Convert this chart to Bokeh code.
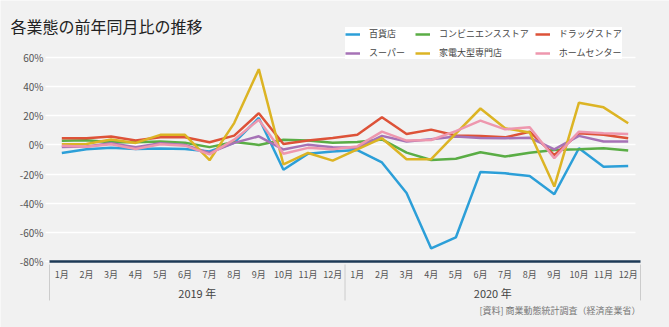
from bokeh.plotting import figure
from bokeh.models import (Range1d, Legend, LegendItem, Label, FixedTicker, PrintfTickFormatter)
from bokeh.embed import file_html
from bokeh.resources import INLINE

FONT = "Noto Sans CJK JP"

years = ["2019 年", "2020 年"]
months = ["1月", "2月", "3月", "4月", "5月", "6月", "7月", "8月", "9月", "10月", "11月", "12月"]

names = ["百貨店", "コンビニエンスストア", "ドラッグストア", "スーパー", "家電大型専門店", "ホームセンター"]
colors = ["#2c9fd8", "#5aad45", "#dd5238", "#a672b6", "#dcb424", "#ee97ae"]

department = [-5.5, -3, -2, -2.8, -2.5, -2.8, -4.5, 1.5, 18.5, -17, -6, -4.5,
              -3.5, -12, -33, -71, -63.5, -18.5, -19.5, -21.3, -33.8, -2.3, -15, -14.5]
convenience = [2.8, 3.2, 1.8, 1.8, 2.3, 1.5, -1.5, 2, 0, 3.5, 3, 1.5,
               2, 3.8, -5.3, -10.3, -9.5, -5, -8, -5.3, -3.4, -3, -2.3, -3.9]
drugstore = [4.6, 4.6, 5.8, 3, 5.3, 5.3, 1.8, 6.4, 21.8, 0.7, 3, 4.8,
             7, 19, 7.5, 10.5, 6.5, 6.2, 5.2, 9.1, -7, 8, 7, 4.6]
supermarket = [-1.4, -1, 1.2, -1.6, 1.2, 0, -5.5, 1.4, 5.9, -3.2, 0.2, -1.6,
               -2, 6.2, 2.3, 3.9, 5.8, 4.8, 4.6, 5, -3, 6.2, 2.3, 2.3]
electronics = [0.5, 0.7, 3.7, 1.4, 6.9, 6.9, -10.5, 15, 52, -13.4, -5.5, -10.8,
               -3, 4.6, -9.8, -9.8, 7.8, 25, 11.4, 8.5, -28.6, 29, 25.8, 14.9]
homecenter = [-0.5, -1.2, 0.5, -2.8, 0.5, -0.5, -6.5, 3.6, 17.3, -6, -2, -3,
              -1, 9.1, 3, 3.4, 9.5, 16.7, 10.7, 12.1, -9.1, 9.1, 8, 7.5]

series = [department, convenience, drugstore, supermarket, electronics, homecenter]

y_ticks = [-80, -60, -40, -20, 0, 20, 40, 60]
title_text = "各業態の前年同月比の推移"
source_text = "[資料] 商業動態統計調査（経済産業省）"

# ---- layout (pixels) ----
W, H = 669, 327
PL, PR = 49, 640        # plot band left / right
PT, PB = 57, 261        # pixel of top tick / bottom tick
n = len(years) * len(months)
kx = (PR - PL) / n
ky = (PB - PT) / (y_ticks[-1] - y_ticks[0])
x_start = -0.5 - PL / kx
x_end = n - 0.5 + (W - PR) / kx
y_end = y_ticks[-1] + PT / ky
y_start = y_ticks[0] - (H - PB) / ky


def ydata(px):
    return y_end - px / ky


x_idx = list(range(n))
tick_labels = {i: months[i % len(months)] for i in x_idx}

BG = "#f1f1f1"
p = figure(width=W, height=H, output_backend="svg", toolbar_location=None,
           x_range=Range1d(x_start, x_end), y_range=Range1d(y_start, y_end))
p.min_border_left = 0
p.min_border_right = 0
p.min_border_top = 0
p.min_border_bottom = 0
p.background_fill_color = BG
p.border_fill_color = BG
p.outline_line_color = None
p.xgrid.grid_line_color = None
p.ygrid.grid_line_color = None

# y axis: labels + ticks used as white grid lines
ya = p.yaxis[0]
ya.fixed_location = -0.5
ya.level = "underlay"
ya.ticker = FixedTicker(ticks=y_ticks)
ya.formatter = PrintfTickFormatter(format="%d%%")
ya.axis_line_color = None
ya.major_tick_line_color = "white"
ya.major_tick_line_width = 1.5
ya.major_tick_in = PR - PL - 5
ya.major_tick_out = 4
ya.minor_tick_line_color = None
ya.major_label_text_font = FONT
ya.major_label_text_font_size = "10px"
ya.major_label_text_color = "#555555"
ya.major_label_standoff = 2

# x axis
xa = p.xaxis[0]
xa.fixed_location = y_ticks[0]
xa.bounds = (-0.5, n - 0.5)
xa.ticker = FixedTicker(ticks=x_idx)
xa.major_label_overrides = tick_labels
xa.axis_line_color = "#1e3a56"
xa.axis_line_width = 2.5
xa.major_tick_line_color = None
xa.minor_tick_line_color = None
xa.major_label_text_font = FONT
xa.major_label_text_font_size = "9px"
xa.major_label_text_color = "#555555"
xa.major_label_standoff = 0

renderers = []
for name, col, vals in zip(names, colors, series):
    r = p.line(x=x_idx, y=vals, line_color=col, line_width=2.5)
    renderers.append((name, r))

# year group separators and labels
sep_x = [k * len(months) - 0.5 for k in range(len(years) + 1)]
p.segment(x0=sep_x, y0=[ydata(264)] * len(sep_x), x1=sep_x, y1=[ydata(300)] * len(sep_x),
          line_color="#cccccc", line_width=1)
for k, yr in enumerate(years):
    p.add_layout(Label(x=k * len(months) + (len(months) - 1) / 2, y=H - 292,
                       y_units="screen", text=yr, text_font=FONT, text_font_size="11px",
                       text_color="#444444", text_align="center", text_baseline="middle"))

legend = Legend(items=[LegendItem(label=nm, renderers=[r]) for nm, r in renderers],
                location=(345, H - 59), orientation="horizontal", ncols=3,
                label_text_font=FONT, label_text_font_size="9px", label_text_color="#444444",
                glyph_width=15, glyph_height=12, label_standoff=9, label_height=12,
                label_width=40, spacing=6, padding=10, margin=0,
                background_fill_color="white", background_fill_alpha=1.0,
                border_line_color=None)
p.add_layout(legend)

p.add_layout(Label(x=10, y=H - 25, x_units="screen", y_units="screen", text=title_text,
                   text_font=FONT, text_font_size="16px", text_color="#222222",
                   text_baseline="middle"))
p.add_layout(Label(x=PR, y=H - 310, x_units="screen", y_units="screen", text=source_text,
                   text_font=FONT, text_font_size="9px", text_color="#777777",
                   text_baseline="middle", text_align="right"))

open("out.html", "w").write(file_html(p, INLINE))
